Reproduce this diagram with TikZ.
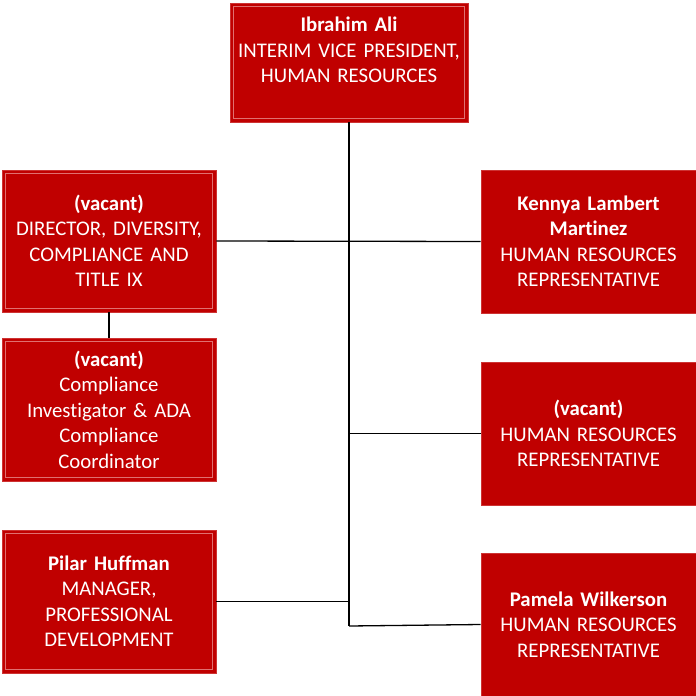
\documentclass[tikz,border=0pt]{standalone}
\usepackage{fontspec}
\setmainfont{Carlito}[Ligatures=NoCommon]
\definecolor{boxred}{HTML}{C00000}
\definecolor{innerline}{HTML}{E07070}
\begin{document}
\begin{tikzpicture}[x=1pt,y=-1pt,
  card/.style={fill=boxred, draw=boxred!80!white, line width=0.6pt, text=white, align=center,
    inner sep=0pt, font=\fontsize{20.8}{25.5}\selectfont},
  framed/.style={path picture={\draw[innerline, line width=0.8pt]
    ([shift={(3.5pt,-3.5pt)}]path picture bounding box.north west) rectangle
    ([shift={(-3.5pt,3.5pt)}]path picture bounding box.south east);}},
  link/.style={draw=black, line width=1.3pt}]
\useasboundingbox (0,0) rectangle (696,696);
\node[card, framed, minimum width=238pt, minimum height=119pt, text width=234pt] (vp) at (349,62.5)
  {\textbf{Ibrahim Ali}\\INTERIM VICE PRESIDENT,\\HUMAN RESOURCES\\\mbox{}};
\node[card, framed, minimum width=214pt, minimum height=142pt, text width=210pt] (dir) at (109,241)
  {\textbf{(vacant)}\\DIRECTOR, DIVERSITY,\\COMPLIANCE AND\\TITLE IX};
\node[card, framed, minimum width=214pt, minimum height=143pt, text width=210pt] (ci) at (109,409.5)
  {\textbf{(vacant)}\\Compliance\\Investigator \& ADA\\Compliance\\Coordinator};
\node[card, framed, minimum width=214pt, minimum height=143pt, text width=210pt] (ph) at (109,601.5)
  {\textbf{Pilar Huffman}\\MANAGER,\\PROFESSIONAL\\DEVELOPMENT};
\node[card, minimum width=215pt, minimum height=143pt, text width=211pt] (klm) at (588.5,241.5)
  {\textbf{Kennya Lambert}\\\textbf{Martinez}\\HUMAN RESOURCES\\REPRESENTATIVE};
\node[card, minimum width=215pt, minimum height=143pt, text width=211pt] (hr2) at (588.5,433.5)
  {\textbf{(vacant)}\\HUMAN RESOURCES\\REPRESENTATIVE};
\node[card, minimum width=215pt, minimum height=143pt, text width=211pt] (pw) at (588.5,624.5)
  {\textbf{Pamela Wilkerson}\\HUMAN RESOURCES\\REPRESENTATIVE};
\coordinate (bot) at (349,626);
\path[link] (vp.south) -- (bot);
\path[link] (dir.east) -- (klm.west);
\path[link] (349,433.5) -- (hr2.west);
\path[link] (ph.east) -- (349,601.5);
\path[link] (bot) -- (pw.west);
\path[link] (dir.south) -- (ci.north);
\end{tikzpicture}
\end{document}
